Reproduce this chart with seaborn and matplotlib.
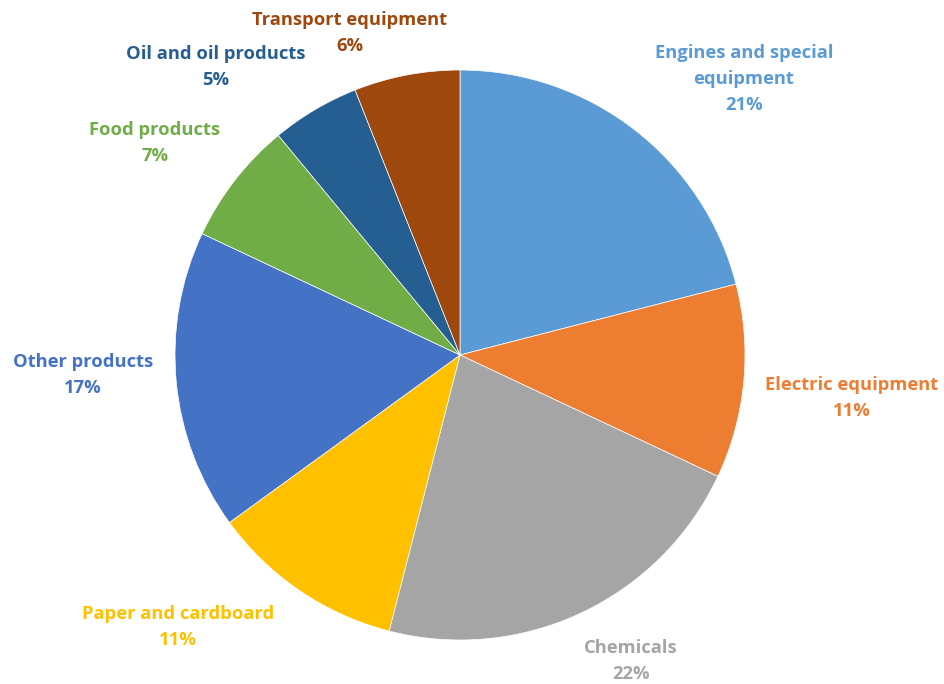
import matplotlib
matplotlib.use("Agg")
import matplotlib.pyplot as plt
import seaborn as sns

categories = ["Engines and special\nequipment", "Electric equipment", "Chemicals",
              "Paper and cardboard", "Other products", "Food products",
              "Oil and oil products", "Transport equipment"]
shares = [21, 11, 22, 11, 17, 7, 5, 6]
colors = ["#5B9BD5", "#ED7D31", "#A5A5A5", "#FFC000", "#4472C4", "#70AD47", "#255E91", "#9E480E"]

# label centres in pixel coordinates (x, y from top)
label_pos = [(744, 79), (852, 398), (631, 661), (178, 627), (83, 375), (155, 143), (216, 67), (350, 33)]

sns.set_theme(style="white")
plt.rcParams['font.family'] = ['Open Sans', 'DejaVu Sans']

W, H = 945, 684
fig = plt.figure(figsize=(W / 100, H / 100), dpi=100)
ax = fig.add_axes([0, 0, 1, 1])

cx, cy, r = 460, H - 355, 285
ax.pie(shares, colors=colors, startangle=90, counterclock=False, center=(cx, cy), radius=r,
       wedgeprops=dict(edgecolor="white", linewidth=0.5), frame=True)
ax.set_xlim(0, W)
ax.set_ylim(0, H)
ax.set_aspect("equal")
ax.axis("off")

for cat, s, c, (x, y) in zip(categories, shares, colors, label_pos):
    ax.text(x, H - y, f"{cat}\n{s}%", color=c, fontsize=13.2, fontweight="bold",
            ha="center", va="center", linespacing=1.55)

fig.savefig("out.png", dpi=100)
